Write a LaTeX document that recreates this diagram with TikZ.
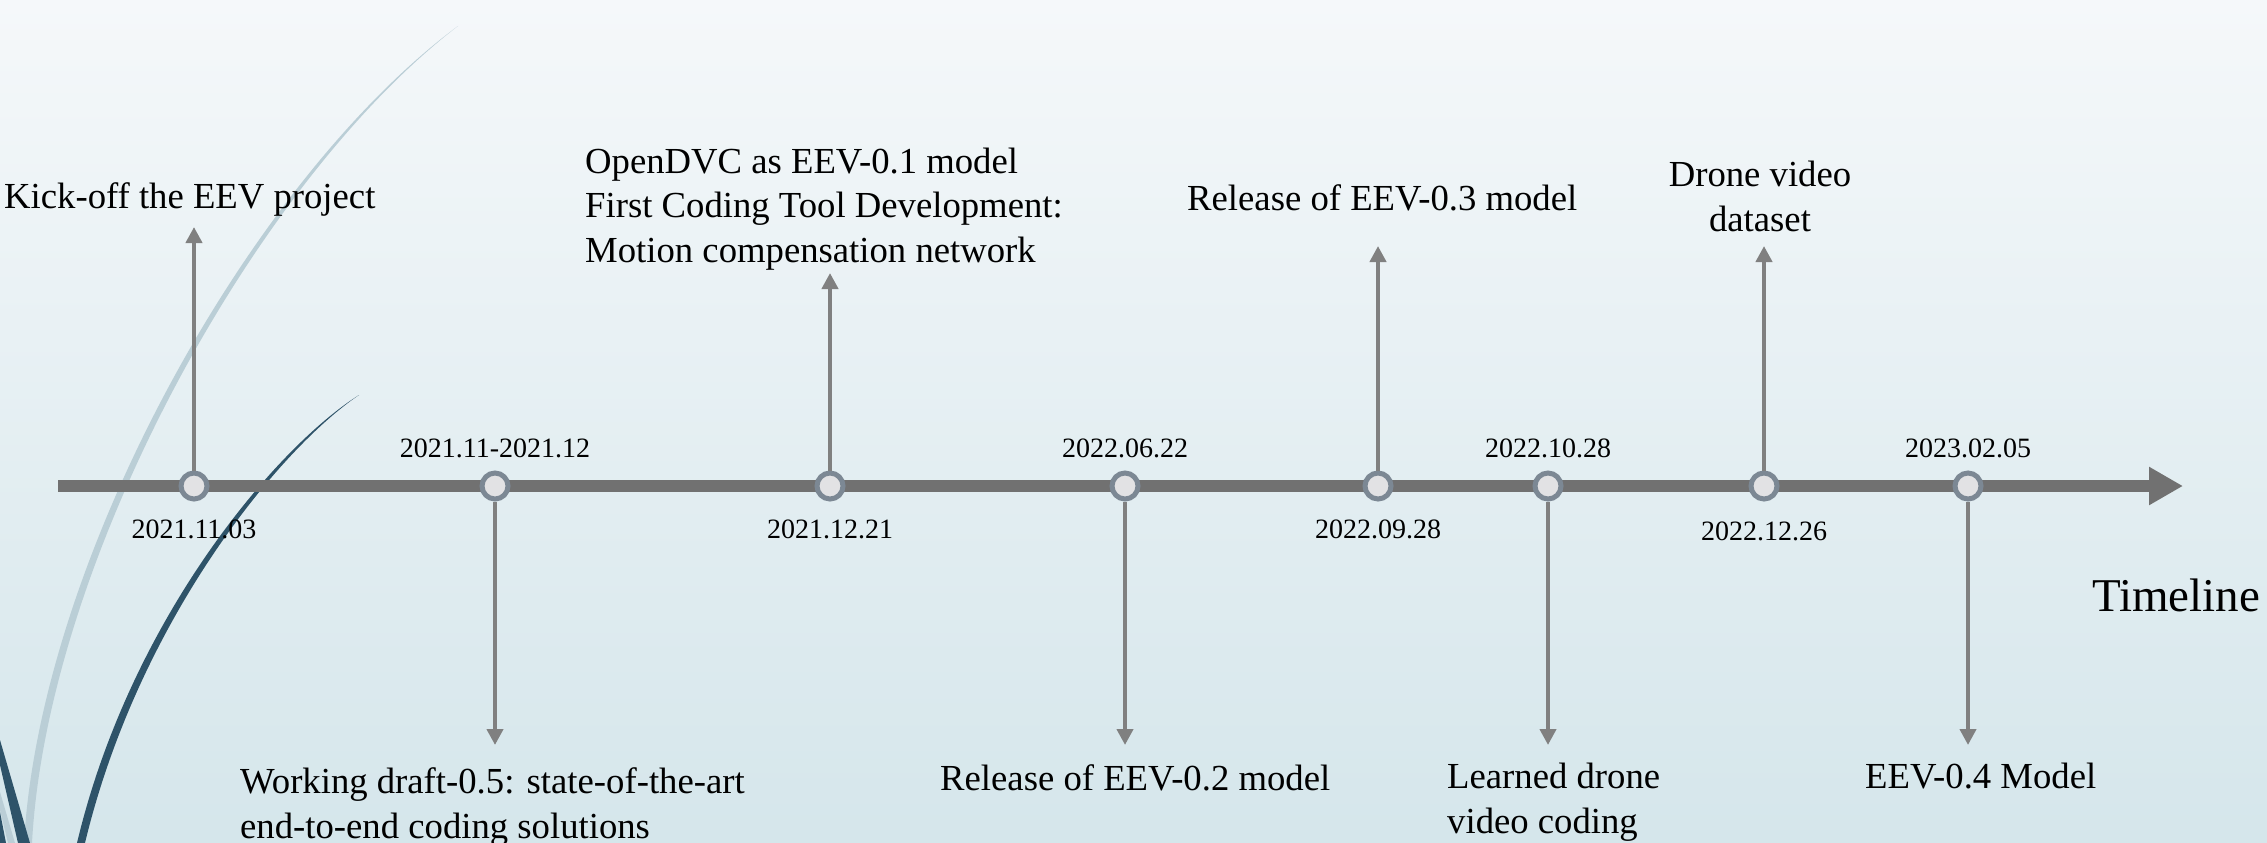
\documentclass[tikz,border=0pt]{standalone}
\usepackage{fontspec}
\setmainfont{Liberation Serif}
\usetikzlibrary{arrows.meta}
\definecolor{bgtop}{HTML}{F5F8FA}
\definecolor{bgbot}{HTML}{D5E6EB}
\definecolor{tlgray}{HTML}{717171}
\definecolor{argray}{HTML}{808080}
\definecolor{dotfill}{HTML}{E2E2E4}
\definecolor{dotedge}{HTML}{7C8894}
\definecolor{darkcurve}{HTML}{2E5369}
\definecolor{lightcurve}{HTML}{BACED6}
\begin{document}
\begin{tikzpicture}[x=1pt,y=-1pt,
  timeline/.style={draw=tlgray,line width=12pt,-{Triangle[length=34pt,width=36pt]}},
  varrow/.style={draw=argray,line width=4pt,-{Triangle[length=16pt,width=16pt]}},
  dot/.style={circle,fill=dotfill,draw=dotedge,line width=5pt,minimum size=26pt,inner sep=0pt},
  datelbl/.style={font=\fontsize{28}{34}\selectfont,inner sep=0pt,anchor=base},
  evtext/.style={font=\fontsize{36.7}{44.5}\selectfont,inner sep=0pt,anchor=base west,align=left},
  tllbl/.style={font=\fontsize{47}{56}\selectfont,inner sep=0pt,anchor=base west}]
\useasboundingbox (0,0) rectangle (2267,843);
\shade[top color=bgtop,bottom color=bgbot] (0,0) rectangle (2267,843);
% decorative curves
\fill[lightcurve] (458,26) .. controls (250,180) and (40,560) .. (24,843)
  -- (32,843) .. controls (47,562) and (255,182) .. (458,26) -- cycle;
\fill[darkcurve] (359,395) .. controls (275,448) and (130,620) .. (77,843)
  -- (85,843) .. controls (138,622) and (278,450) .. (359,395) -- cycle;
\fill[darkcurve] (0,740) -- (30,843) -- (18,843) -- (0,765) -- cycle;
\fill[lightcurve] (0,792) -- (15,843) -- (8,843) -- (0,810) -- cycle;
\fill[darkcurve] (0,812) -- (6,843) -- (0,843) -- cycle;
% timeline
\coordinate (tlstart) at (58,486);
\coordinate (tlend) at (2183,486);
\draw[timeline] (tlstart) -- (tlend);
\node[dot] (n1) at (194,486) {};
\node[dot] (n2) at (495,486) {};
\node[dot] (n3) at (830,486) {};
\node[dot] (n4) at (1125,486) {};
\node[dot] (n5) at (1378,486) {};
\node[dot] (n6) at (1548,486) {};
\node[dot] (n7) at (1764,486) {};
\node[dot] (n8) at (1968,486) {};
\coordinate (t1) at (194,227);
\coordinate (t2) at (495,745);
\coordinate (t3) at (830,273);
\coordinate (t4) at (1125,745);
\coordinate (t5) at (1378,246);
\coordinate (t6) at (1548,745);
\coordinate (t7) at (1764,246);
\coordinate (t8) at (1968,745);
\foreach \i in {1,...,8} \draw[varrow] (n\i) -- (t\i);
% dates
\node[datelbl] (d1) at (194,538) {2021.11.03};
\node[datelbl] (d2) at (495,457) {2021.11-2021.12};
\node[datelbl] (d3) at (830,538) {2021.12.21};
\node[datelbl] (d4) at (1125,457) {2022.06.22};
\node[datelbl] (d5) at (1378,538) {2022.09.28};
\node[datelbl] (d6) at (1548,457) {2022.10.28};
\node[datelbl] (d7) at (1764,540) {2022.12.26};
\node[datelbl] (d8) at (1968,457) {2023.02.05};
% events (multi-line nodes: base = last line)
\node[evtext] (e1) at (4,208) {Kick-off the EEV project};
\node[evtext] (e2) at (240,838) {Working draft-0.5: state-of-the-art\\end-to-end coding solutions};
\node[evtext] (e3) at (585,262) {OpenDVC as EEV-0.1 model\\First Coding Tool Development:\\Motion compensation network};
\node[evtext] (e4) at (940,790) {Release of EEV-0.2 model};
\node[evtext] (e5) at (1187,210) {Release of EEV-0.3 model};
\node[evtext,align=center,anchor=base] (e7) at (1760,231) {Drone video\\dataset};
\node[evtext] (e6) at (1447,833) {Learned drone\\video coding};
\node[evtext] (e8) at (1865,788) {EEV-0.4 Model};
\node[tllbl] (tl) at (2092,611) {Timeline};
\end{tikzpicture}
\end{document}
